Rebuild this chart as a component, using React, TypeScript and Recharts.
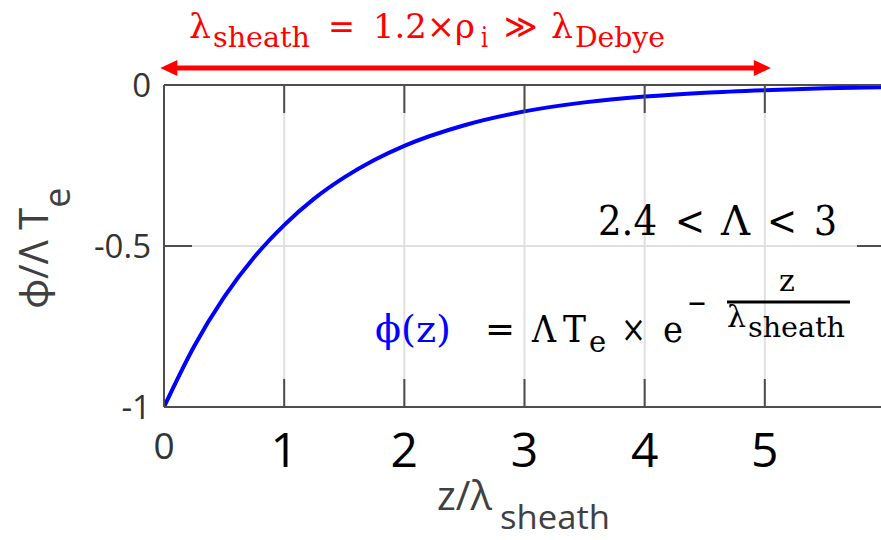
import React from 'react';
import { LineChart, Line, XAxis, YAxis, CartesianGrid, ReferenceLine } from 'recharts';

// normalised potential phi/(Lambda*Te) against z/lambda_sheath
const zValues = [0, 0.25, 0.5, 0.75, 1, 1.25, 1.5, 1.75, 2, 2.5, 3, 3.5, 4, 4.5, 5, 5.5, 6];
const phiValues = [
  -1, -0.812, -0.659, -0.535, -0.435, -0.353, -0.287, -0.233, -0.189, -0.125, -0.082, -0.054,
  -0.036, -0.024, -0.016, -0.01, -0.007,
];
const xTicks = [0, 1, 2, 3, 4, 5];
const yTicks = [-1, -0.5, 0];
const yTickLabels = ['-1', '-0.5', '0'];
const X_DOMAIN = [0, 6];
// sheath width arrow, in z units
const arrowSpan = [-0.03, 5.05];

const data = zValues.map((z, i) => ({ z, phi: phiValues[i] }));

// plot box (px)
const CHART_W = 890;
const CHART_H = 540;
const PLOT_LEFT = 164;
const PLOT_RIGHT = 885;
const PLOT_TOP = 85;
const PLOT_BOTTOM = 407;
const Y_AXIS_W = 60;
const X_AXIS_H = 60;
const TICK_LEN = 28;
const AXIS_COLOR = '#4d4d4d';
const SANS = '"Open Sans", Lato, sans-serif';
const SERIF = '"DejaVu Serif", "Liberation Serif", serif';
const FIT = 'spacingAndGlyphs';

const zToPx = (z: number) =>
  PLOT_LEFT + ((z - X_DOMAIN[0]) / (X_DOMAIN[1] - X_DOMAIN[0])) * (PLOT_RIGHT - PLOT_LEFT);

function XTick({ x, payload }: any) {
  const v = payload.value;
  return (
    <g>
      <line x1={x} x2={x} y1={PLOT_BOTTOM} y2={PLOT_BOTTOM - TICK_LEN} stroke={AXIS_COLOR} strokeWidth={2} />
      <line x1={x} x2={x} y1={PLOT_TOP} y2={PLOT_TOP + TICK_LEN} stroke={AXIS_COLOR} strokeWidth={2} />
      {v === 0 ? (
        <text x={x} y={459} textAnchor="middle" fontFamily={SANS} fontSize={37} fill="#333">
          0
        </text>
      ) : (
        <text x={x} y={467} textAnchor="middle" fontFamily={SANS} fontSize={48} fill="#000">
          {v}
        </text>
      )}
    </g>
  );
}

function YTick({ y, payload }: any) {
  const label = yTickLabels[yTicks.indexOf(payload.value)];
  return (
    <g>
      <line x1={PLOT_LEFT} x2={PLOT_LEFT + TICK_LEN} y1={y} y2={y} stroke={AXIS_COLOR} strokeWidth={2} />
      <line x1={PLOT_RIGHT - TICK_LEN} x2={PLOT_RIGHT} y1={y} y2={y} stroke={AXIS_COLOR} strokeWidth={2} />
      <text x={151} y={y + 12} textAnchor="end" fontFamily={SANS} fontSize={33} fill="#333">
        {label}
      </text>
    </g>
  );
}

function Annotations() {
  const x0 = zToPx(arrowSpan[0]);
  const x1 = zToPx(arrowSpan[1]);
  const ay = 68;
  return (
    <svg
      width={881}
      height={540}
      style={{ position: 'absolute', left: 0, top: 0, pointerEvents: 'none' }}
    >
      {/* sheath width arrow */}
      <line x1={x0 + 12} x2={x1 - 12} y1={ay} y2={ay} stroke="#ff0000" strokeWidth={5} />
      <polygon points={`${x0},${ay} ${x0 + 17},${ay - 8} ${x0 + 17},${ay + 8}`} fill="#ff0000" />
      <polygon points={`${x1},${ay} ${x1 - 17},${ay - 8} ${x1 - 17},${ay + 8}`} fill="#ff0000" />

      <text fontFamily={SERIF} fill="#ff0000" fontSize={34} y={38}>
        <tspan x={189} textLength={22} lengthAdjust={FIT}>λ</tspan>
        <tspan x={213} y={47} fontSize={28} textLength={97} lengthAdjust={FIT}>sheath</tspan>
        <tspan x={328} y={38} textLength={27} lengthAdjust={FIT}>=</tspan>
        <tspan x={373} textLength={102} lengthAdjust={FIT}>1.2×ρ</tspan>
        <tspan x={481} y={47} fontSize={28} textLength={7} lengthAdjust={FIT}>i</tspan>
        <tspan x={504} y={38} textLength={34} lengthAdjust={FIT}>≫</tspan>
        <tspan x={551} textLength={22} lengthAdjust={FIT}>λ</tspan>
        <tspan x={575} y={47} fontSize={28} textLength={90} lengthAdjust={FIT}>Debye</tspan>
      </text>

      {/* axis titles */}
      <text
        transform="translate(48,248) rotate(-90)"
        textAnchor="middle"
        fontFamily={SANS}
        fontSize={40}
        fill="#404040"
      >
        ϕ/Λ T<tspan dy={22} fontSize={36}>e</tspan>
      </text>
      <text fontFamily={SANS} fill="#404040" fontSize={40} y={510}>
        <tspan x={437}>z/λ</tspan>
        <tspan x={500} y={529} fontSize={33} textLength={110} lengthAdjust={FIT}>sheath</tspan>
      </text>

      {/* inset equations */}
      <text y={235} fontFamily={SERIF} fontSize={41} fill="#000">
        <tspan x={598} textLength={59} lengthAdjust={FIT}>2.4</tspan>
        <tspan x={675} textLength={30} lengthAdjust={FIT}>&lt;</tspan>
        <tspan x={721} textLength={29} lengthAdjust={FIT}>Λ</tspan>
        <tspan x={767} textLength={30} lengthAdjust={FIT}>&lt;</tspan>
        <tspan x={814} textLength={23} lengthAdjust={FIT}>3</tspan>
      </text>
      <text fontFamily={SERIF} fontSize={38} fill="#000" y={342}>
        <tspan x={375} fill="#0000ff" textLength={76} lengthAdjust={FIT}>ϕ(z)</tspan>
        <tspan x={485} textLength={30} lengthAdjust={FIT}>=</tspan>
        <tspan x={532} textLength={24} lengthAdjust={FIT}>Λ</tspan>
        <tspan x={563} textLength={23} lengthAdjust={FIT}>T</tspan>
        <tspan x={589} y={352} fontSize={29}>e</tspan>
        <tspan x={621} y={342} textLength={25} lengthAdjust={FIT}>×</tspan>
        <tspan x={663} textLength={20} lengthAdjust={FIT}>e</tspan>
        <tspan x={687} y={313} fontSize={30} textLength={20} lengthAdjust={FIT}>−</tspan>
      </text>
      <text x={787} y={291} textAnchor="middle" fontFamily={SERIF} fontSize={30} fill="#000">
        z
      </text>
      <line x1={727} x2={850} y1={302} y2={302} stroke="#000" strokeWidth={3} />
      <text fontFamily={SERIF} fontSize={30} fill="#000" y={327}>
        <tspan x={727} textLength={19} lengthAdjust={FIT}>λ</tspan>
        <tspan x={748} y={337} fontSize={27} textLength={97} lengthAdjust={FIT}>sheath</tspan>
      </text>
    </svg>
  );
}

export default function App() {
  return (
    <div
      style={{
        position: 'absolute',
        left: 0,
        top: 0,
        width: 881,
        height: 540,
        overflow: 'hidden',
        background: '#fff',
      }}
    >
      <LineChart
        width={CHART_W}
        height={CHART_H}
        data={data}
        margin={{
          top: PLOT_TOP,
          right: CHART_W - PLOT_RIGHT,
          bottom: CHART_H - PLOT_BOTTOM - X_AXIS_H,
          left: PLOT_LEFT - Y_AXIS_W,
        }}
      >
        <CartesianGrid stroke="#e0e0e0" strokeWidth={2} />
        <XAxis
          dataKey="z"
          type="number"
          domain={X_DOMAIN}
          ticks={xTicks}
          tick={<XTick />}
          tickLine={false}
          axisLine={{ stroke: AXIS_COLOR, strokeWidth: 2 }}
          height={X_AXIS_H}
          allowDataOverflow
        />
        <YAxis
          type="number"
          domain={[-1, 0]}
          ticks={yTicks}
          tick={<YTick />}
          tickLine={false}
          axisLine={{ stroke: AXIS_COLOR, strokeWidth: 2 }}
          width={Y_AXIS_W}
          allowDataOverflow
        />
        <ReferenceLine y={0} stroke={AXIS_COLOR} strokeWidth={2} />
        <Line
          type="monotone"
          dataKey="phi"
          stroke="#0000ff"
          strokeWidth={4}
          dot={false}
          isAnimationActive={false}
        />
      </LineChart>
      <Annotations />
    </div>
  );
}
